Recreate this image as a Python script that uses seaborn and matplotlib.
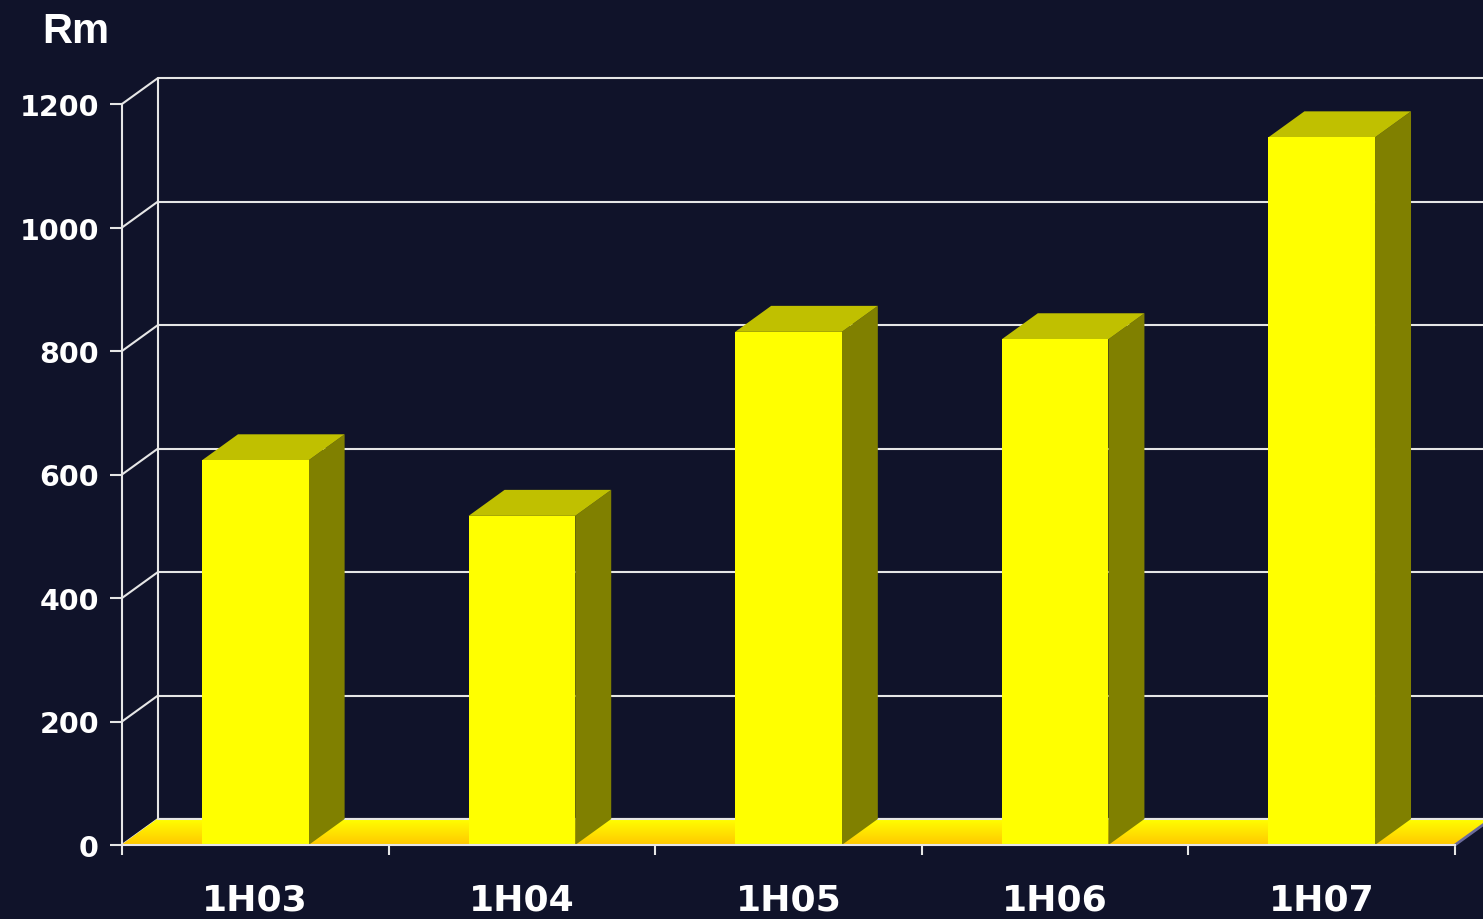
import numpy as np
import pandas as pd
import matplotlib
matplotlib.use("Agg")
import matplotlib.pyplot as plt
from matplotlib.collections import PolyCollection
import seaborn as sns

# ---- data ----
categories = ["1H03", "1H04", "1H05", "1H06", "1H07"]
values = [623, 533, 831, 819, 1146]
y_ticks = [0, 200, 400, 600, 800, 1000, 1200]
y_label = "Rm"

# ---- style ----
BG = "#10132a"
FRONT = "#ffff00"
TOP = "#c0c000"
SIDE = "#808000"
LINE = "#e6e6e6"
FONT = ["Liberation Sans", "DejaVu Sans"]

sns.set_theme(style="dark")
plt.rcParams["font.family"] = FONT
plt.rcParams["font.weight"] = "bold"

W, H = 1483, 920
fig = plt.figure(figsize=(W / 100, H / 100), dpi=100, facecolor=BG)
ax = fig.add_axes([122 / W, 74 / H, 1333 / W, 741 / H])
ax.set_facecolor("none")

df = pd.DataFrame({"period": categories, "value": values})
sns.barplot(data=df, x="period", y="value", color=FRONT, saturation=1,
            width=0.4, edgecolor="none", linewidth=0, ax=ax, zorder=3)

ax.set_xlim(-0.5, 4.5)
ax.set_ylim(0, 1200)

# depth offsets in data units
DX = 36 / (1333 / 5)
DY = 26 / (741 / 1200)
x_right = -0.5 + (W - 122) / (1333 / 5) + 0.05

# back wall gridlines + left wall diagonals
for v in y_ticks:
    ax.plot([-0.5 + DX, x_right], [v + DY, v + DY], color=LINE, lw=1.5,
            zorder=0.5, clip_on=False, solid_capstyle="butt")
    ax.plot([-0.5, -0.5 + DX], [v, v + DY], color=LINE, lw=1.5,
            zorder=0.5, clip_on=False)
ax.plot([-0.5 + DX, -0.5 + DX], [DY, 1200 + DY], color=LINE, lw=1.5,
        zorder=0.5, clip_on=False)

# floor with vertical gradient
n = 26
polys, cols = [], []
top_c = np.array([1.0, 1.0, 0.0])
bot_c = np.array([1.0, 0.78, 0.0])
for i in range(n):
    f0, f1 = i / n, (i + 1) / n
    y0, y1 = DY * f0, DY * f1
    polys.append([(-0.5 + DX * f0, y0), (4.5 + DX * f0, y0),
                  (4.5 + DX * f1, y1), (-0.5 + DX * f1, y1)])
    t = 1 - (f0 + f1) / 2
    cols.append(top_c * (1 - t) + bot_c * t)
floor = PolyCollection(polys, facecolors=cols, edgecolors=cols, linewidths=0.5,
                       zorder=1, clip_on=False)
ax.add_collection(floor)
ax.plot([4.5, 4.5 + DX], [0, DY], color="#6a6a9a", lw=2, zorder=1.2, clip_on=False)
ax.plot([-0.5 + DX, x_right], [DY, DY], color=LINE, lw=1.5, zorder=1.5,
        clip_on=False)

# 3D faces of bars
for p in ax.patches:
    x0, w, h = p.get_x(), p.get_width(), p.get_height()
    side = plt.Polygon([(x0 + w, 0), (x0 + w + DX, DY), (x0 + w + DX, h + DY),
                        (x0 + w, h)], closed=True, facecolor=SIDE,
                       edgecolor="none", zorder=2.5, clip_on=False)
    top = plt.Polygon([(x0, h), (x0 + w, h), (x0 + w + DX, h + DY),
                       (x0 + DX, h + DY)], closed=True, facecolor=TOP,
                      edgecolor="none", zorder=2.5, clip_on=False)
    ax.add_patch(side)
    ax.add_patch(top)
    p.set_clip_on(False)

# axes / ticks
for s in ["top", "right"]:
    ax.spines[s].set_visible(False)
for s in ["left", "bottom"]:
    ax.spines[s].set_color(LINE)
    ax.spines[s].set_linewidth(1.5)
    ax.spines[s].set_zorder(4)
ax.grid(False)

ax.set_yticks(y_ticks)
ax.set_yticklabels([str(v) for v in y_ticks])
ax.tick_params(axis="y", left=True, colors=LINE, length=8.6, width=1.5, pad=8,
               labelsize=20.5, labelcolor="white")
ax.set_xticks(range(len(categories)))
ax.set_xticklabels(categories)
ax.set_xticks([i - 0.5 for i in range(len(categories) + 1)], minor=True)
ax.tick_params(axis="x", which="major", bottom=True, length=0, pad=27,
               labelsize=26, labelcolor="white")
ax.tick_params(axis="x", which="minor", bottom=True, length=7, width=1.5,
               colors=LINE)
for lab in ax.get_xticklabels() + ax.get_yticklabels():
    lab.set_fontweight("bold")
    lab.set_family(["DejaVu Sans"])
ax.set_xlabel("")
ax.set_ylabel("")

fig.text(42 / W, 1 - 12 / H, y_label, ha="left", va="top", fontsize=30,
         fontweight="bold", color="white")

fig.savefig("out.png", dpi=100, facecolor=BG)
